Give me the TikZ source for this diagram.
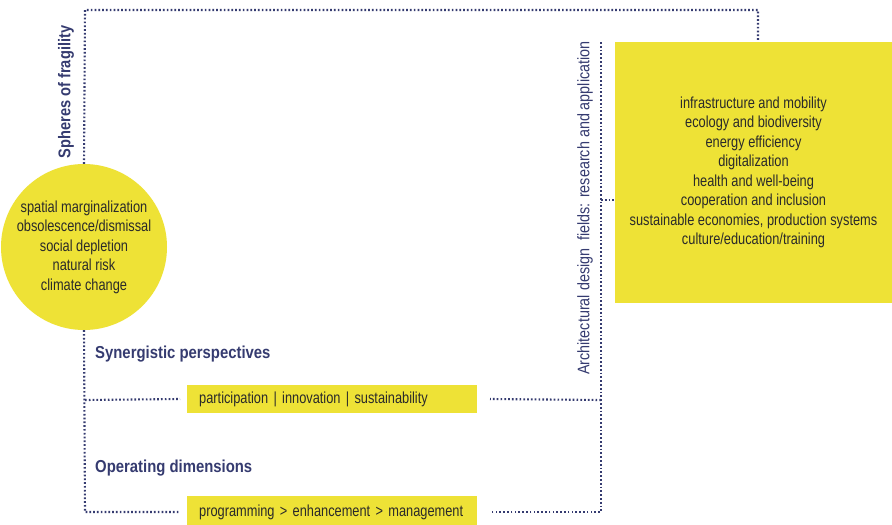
\documentclass[tikz,border=0pt]{standalone}
\usepackage{fontspec}
\setmainfont[FakeStretch=0.86]{Liberation Sans}
\newfontfamily\narrowfont[FakeStretch=0.80]{Liberation Sans}
\definecolor{yel}{HTML}{EEE236}
\definecolor{navy}{HTML}{353B70}
\definecolor{ink}{HTML}{2A2A2A}
\begin{document}
\begin{tikzpicture}[x=1pt,y=-1pt,
  dots/.style={draw=navy,line width=2.1pt,dash pattern=on 1.7pt off 2.1pt},
  yelbox/.style={fill=yel,draw=none,inner sep=0pt,text=ink,font=\narrowfont\fontsize{16}{19.5}\selectfont},
  head/.style={text=navy,font=\bfseries\fontsize{17.3}{19}\selectfont,inner sep=0pt},
  vlabel/.style={text=navy,font=\fontsize{16.7}{18}\selectfont,inner sep=0pt,rotate=90}]
\useasboundingbox (0,0) rectangle (892,525);
\fill[white] (0,0) rectangle (892,525);

% shapes
\node[yelbox,circle,minimum size=166pt,align=center] (circ) at (84,247)
  {spatial marginalization\\obsolescence/dismissal\\social depletion\\natural risk\\climate change};
\node[yelbox,rectangle,minimum width=277pt,minimum height=261pt,align=center] (rbox) at (753.5,172.5)
  {infrastructure and mobility\\ecology and biodiversity\\energy efficiency\\digitalization\\health and well-being\\cooperation and inclusion\\sustainable economies, production systems\\culture/education/training};
\node[yelbox,rectangle,minimum width=290pt,minimum height=28pt,anchor=west,text width=266pt,align=left,inner xsep=12pt] (pbox) at (187,399)
  {participation | innovation | sustainability};
\node[yelbox,rectangle,minimum width=290pt,minimum height=32pt,anchor=west,text width=266pt,align=left,inner xsep=12pt] (mbox) at (187,512)
  {programming > enhancement > management};

% labels
\node[vlabel,font=\bfseries\fontsize{17}{18}\selectfont] (sph) at (66,92) {Spheres of fragility};
\node[vlabel] (arch) at (585,208) {Architectural design\ \ fields: research and application};
\node[head,anchor=west] (syn) at (95,354) {Synergistic perspectives};
\node[head,anchor=west] (op) at (95,468) {Operating dimensions};

% coordinates
\coordinate (tl) at (85,10);
\coordinate (tr) at (758,10);
\coordinate (lb) at (85,512);
\coordinate (lp) at (85,400);
\coordinate (rt) at (601,42);
\coordinate (rb) at (601,512);
\coordinate (rp) at (601,400);
\coordinate (rm) at (601,200);

% connectors
\draw[dots] (circ.north) -- (tl) -- (tr) -- (tr |- rbox.north);
\draw[dots] (circ.south) -- (lb) -- (mbox.west -| 180,0);
\draw[dots] (lp) -- (pbox.west -| 180,0);
\draw[dots] (rt) -- (rb) -- (mbox.east -| 490,0);
\draw[dots] (rp) -- (pbox.east -| 490,0);
\draw[dots] (rm) -- (rm -| rbox.west);
\end{tikzpicture}
\end{document}
